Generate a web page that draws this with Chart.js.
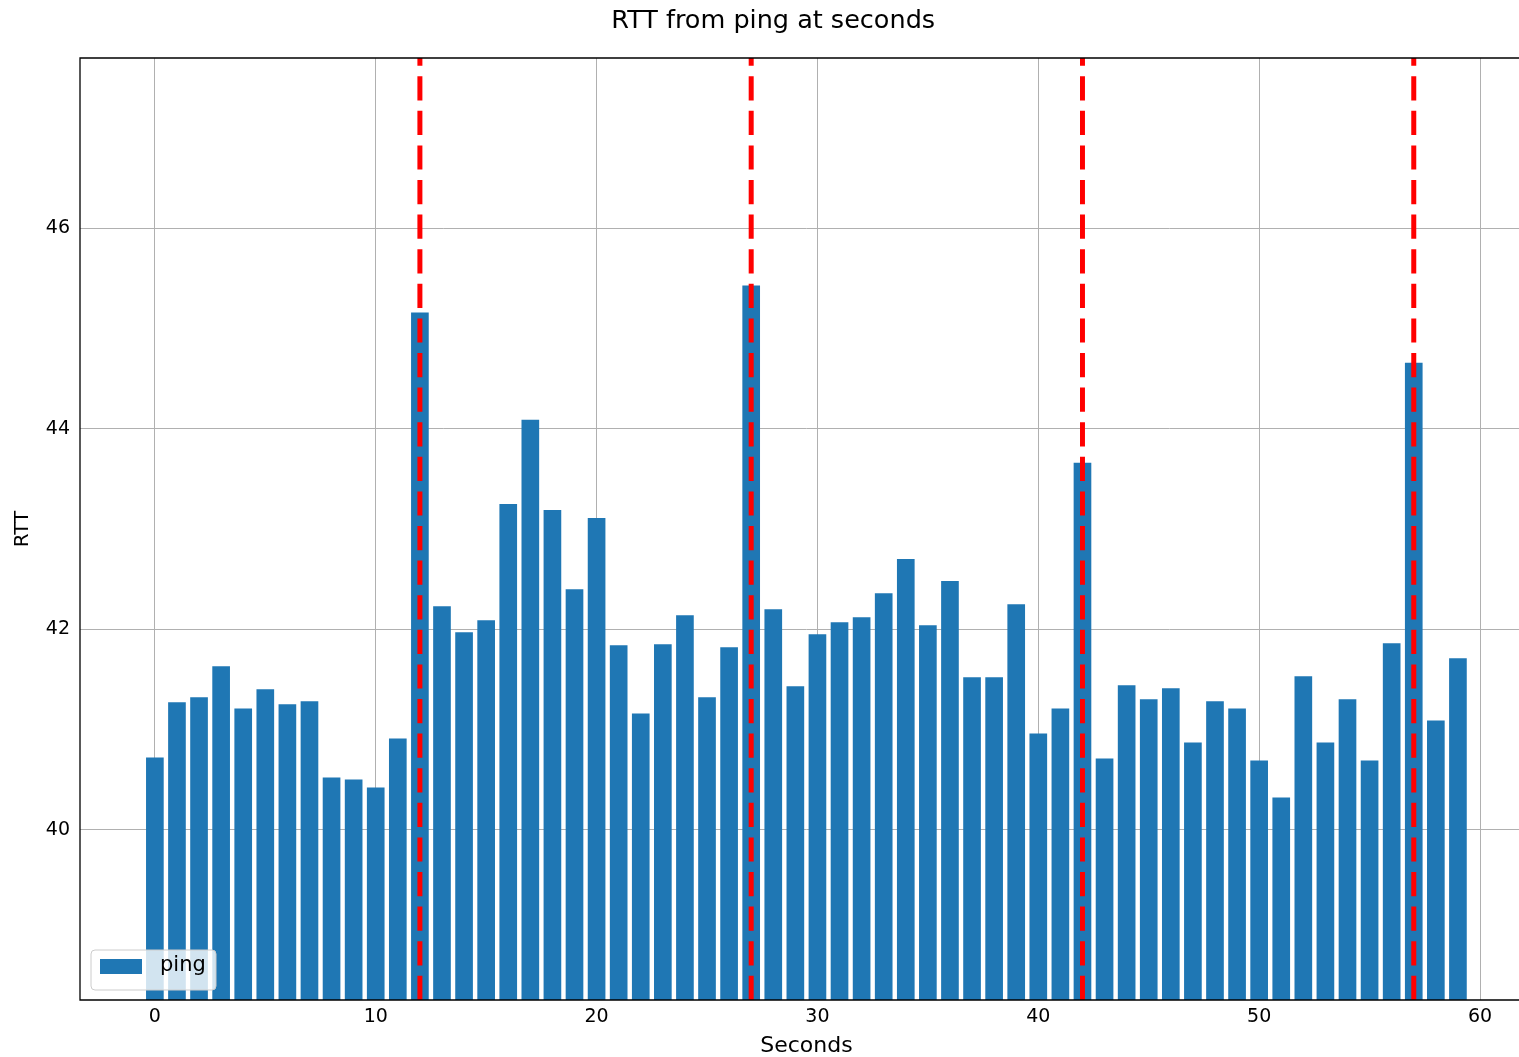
<!DOCTYPE html>
<html>
<head>
<meta charset="utf-8">
<script src="https://cdn.jsdelivr.net/npm/chart.js@4/dist/chart.umd.min.js"></script>
<style>
  html, body { margin: 0; padding: 0; background: #fff; overflow: hidden; }
  #wrap { width: 1546px; height: 1057px; }
</style>
</head>
<body>
<div id="wrap"><canvas id="c" width="1546" height="1057"></canvas></div>
<script>
const seconds = [0,1,2,3,4,5,6,7,8,9,10,11,12,13,14,15,16,17,18,19,20,21,22,23,24,25,26,27,28,29,30,31,32,33,34,35,36,37,38,39,40,41,42,43,44,45,46,47,48,49,50,51,52,53,54,55,56,57,58,59];
const rtt = [40.72,41.27,41.32,41.63,41.21,41.40,41.25,41.28,40.52,40.50,
             40.42,40.91,45.16,42.23,41.97,42.09,43.25,44.09,43.19,42.40,
             43.11,41.84,41.16,41.85,42.14,41.32,41.82,45.43,42.20,41.43,
             41.95,42.07,42.12,42.36,42.70,42.04,42.48,41.52,41.52,42.25,
             40.96,41.21,43.66,40.71,41.44,41.30,41.41,40.87,41.28,41.21,
             40.69,40.32,41.53,40.87,41.30,40.69,41.86,44.66,41.09,41.71];
const markerSeconds = [12, 27, 42, 57];
const xTickValues = [0, 10, 20, 30, 40, 50, 60];
const yTickValues = [40, 42, 44, 46];
const xMin = -3.39, xMax = 62.39;
const yMin = 38.30, yMax = 47.70;

const FONT = "'DejaVu Sans', sans-serif";

const barData = seconds.map((s, i) => ({ x: s, y: rtt[i] }));
const lineSets = markerSeconds.map(s => ({
  type: 'line',
  label: 'marker ' + s,
  data: [{ x: s, y: yMin }, { x: s, y: yMax }],
  borderColor: '#ff0000',
  borderWidth: 5,
  borderDash: [24.2, 10.4],
  pointRadius: 0,
  fill: false,
  order: 0
}));

const frame = {
  id: 'frame',
  afterDatasetsDraw(chart) {
    const { ctx, chartArea: a } = chart;
    ctx.save();
    ctx.strokeStyle = '#000';
    ctx.lineWidth = 1.3;
    ctx.beginPath();
    ctx.moveTo(a.right + 2, a.top);
    ctx.lineTo(a.left, a.top);
    ctx.lineTo(a.left, a.bottom);
    ctx.lineTo(a.right + 2, a.bottom);
    ctx.stroke();
    ctx.restore();
  },
  afterDraw(chart) {
    const { ctx } = chart;
    const ds = chart.data.datasets[0];
    ctx.save();
    const x = 91, y = 950, w = 125, h = 40, r = 4;
    ctx.beginPath();
    ctx.roundRect(x, y, w, h, r);
    ctx.fillStyle = 'rgba(255,255,255,0.8)';
    ctx.fill();
    ctx.strokeStyle = '#cccccc';
    ctx.lineWidth = 1;
    ctx.stroke();
    ctx.fillStyle = ds.backgroundColor;
    ctx.fillRect(100, 959, 42, 15);
    ctx.fillStyle = '#000';
    ctx.font = '21px ' + FONT;
    ctx.textBaseline = 'middle';
    ctx.textAlign = 'left';
    ctx.fillText(ds.label, 160, 966);
    ctx.restore();
  }
};

new Chart(document.getElementById('c'), {
  type: 'bar',
  data: {
    datasets: [
      {
        type: 'bar',
        label: 'ping',
        data: barData,
        backgroundColor: '#1f77b4',
        borderWidth: 0,
        barPercentage: 0.8,
        categoryPercentage: 1.0,
        order: 1
      },
      ...lineSets
    ]
  },
  options: {
    responsive: false,
    animation: false,
    layout: { padding: { left: 13.6, right: 13.2, top: 0, bottom: 0 } },
    plugins: {
      legend: { display: false },
      tooltip: { enabled: false },
      title: {
        display: true,
        text: 'RTT from ping at seconds',
        color: '#000',
        font: { family: FONT, size: 25.5, weight: 'normal', lineHeight: 1.2 },
        padding: { top: 5.7, bottom: 21.7 }
      }
    },
    scales: {
      x: {
        type: 'linear',
        min: xMin,
        max: xMax,
        offset: false,
        afterBuildTicks: s => { s.ticks = xTickValues.map(v => ({ value: v })); },
        afterFit: s => { s.height = 57; },
        grid: { color: '#b0b0b0', lineWidth: 1, drawTicks: false, offset: false },
        border: { display: false },
        ticks: {
          color: '#000',
          padding: 6,
          maxRotation: 0,
          autoSkip: false,
          font: { family: FONT, size: 19 },
          callback: v => String(v)
        },
        title: {
          display: true,
          text: 'Seconds',
          color: '#000',
          font: { family: FONT, size: 22, lineHeight: 1 },
          padding: { top: 0, bottom: 0 }
        }
      },
      y: {
        type: 'linear',
        min: yMin,
        max: yMax,
        afterBuildTicks: s => { s.ticks = yTickValues.map(v => ({ value: v })); },
        afterFit: s => { s.width = 66.4; },
        grid: { color: '#b0b0b0', lineWidth: 1, drawTicks: false },
        border: { display: false },
        ticks: {
          color: '#000',
          padding: 10,
          font: { family: FONT, size: 19 },
          callback: v => String(v)
        },
        title: {
          display: true,
          text: 'RTT',
          color: '#000',
          font: { family: FONT, size: 20, lineHeight: 1 },
          padding: { top: -0.6, bottom: 0 }
        }
      }
    }
  },
  plugins: [frame]
});
</script>
</body>
</html>
